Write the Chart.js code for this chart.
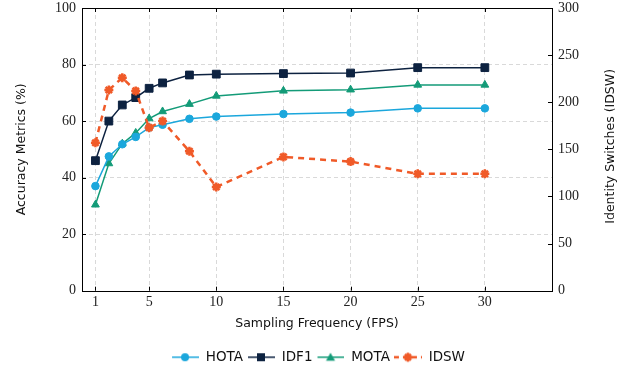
<!DOCTYPE html>
<html><head><meta charset="utf-8">
<script src="https://cdn.jsdelivr.net/npm/chart.js@4/dist/chart.umd.min.js"></script>
<style>html,body{margin:0;padding:0;background:#fff}</style>
</head><body>
<canvas id="c" width="636" height="370"></canvas>
<script>
const fps = [1, 2, 3, 4, 5, 6, 8, 10, 15, 20, 25, 30];
const hota = [37.0, 47.5, 51.8, 54.4, 57.7, 58.7, 60.8, 61.6, 62.5, 63.0, 64.5, 64.5];
const idf1 = [46.0, 60.0, 65.7, 68.3, 71.6, 73.5, 76.3, 76.6, 76.8, 77.0, 78.9, 78.9];
const mota = [30.4, 45.0, 52.0, 55.8, 60.9, 63.4, 66.0, 68.9, 70.7, 71.1, 72.8, 72.8];
const idsw = [157, 213, 226, 212, 173, 180, 148, 110, 142, 137, 124, 124];
const xTicks = [1, 5, 10, 15, 20, 25, 30];
const leftTicks = [0, 20, 40, 60, 80, 100];
const rightTicks = [0, 50, 100, 150, 200, 250, 300];
const seriesNames = ['HOTA', 'IDF1', 'MOTA', 'IDSW'];
const xTitle = 'Sampling Frequency (FPS)';
const yTitle = 'Accuracy Metrics (%)';
const y2Title = 'Identity Switches (IDSW)';

const C_HOTA = '#1ba7dc', C_IDF1 = '#0d2240', C_MOTA = '#139b78', C_IDSW = '#f05a28';

function pts(ys) { return fps.map((x, i) => ({x: x, y: ys[i]})); }

function legendIcon(color, shape, dashed) {
  const cv = document.createElement('canvas');
  cv.width = 28; cv.height = 12;
  const g = cv.getContext('2d');
  g.strokeStyle = color; g.fillStyle = color;
  g.lineWidth = dashed ? 2.5 : 1.5;
  if (dashed) g.setLineDash([5, 4]);
  g.beginPath(); g.moveTo(dashed ? 0 : 1, 6); g.lineTo(28, 6); g.stroke();
  g.setLineDash([]);
  g.beginPath();
  if (shape === 'circle') { g.arc(14, 6, 4, 0, Math.PI * 2); g.fill(); }
  else if (shape === 'rect') { g.fillRect(10, 2, 8, 8); }
  else if (shape === 'tri') { g.moveTo(14, 1.5); g.lineTo(18.5, 9.5); g.lineTo(9.5, 9.5); g.closePath(); g.fill(); }
  else if (shape === 'star') {
    g.lineWidth = 2.5;
    g.moveTo(14, 1.5); g.lineTo(14, 10.5); g.moveTo(9.5, 6); g.lineTo(18.5, 6);
    g.moveTo(11, 3); g.lineTo(17, 9); g.moveTo(17, 3); g.lineTo(11, 9);
    g.stroke();
  }
  return cv;
}
const icons = [
  legendIcon(C_HOTA, 'circle', false),
  legendIcon(C_IDF1, 'rect', false),
  legendIcon(C_MOTA, 'tri', false),
  legendIcon(C_IDSW, 'star', true)
];

const tickFont = {family: 'Liberation Serif', size: 14};
const titleFont = {family: 'DejaVu Sans', size: 12.5};

const framePlugin = {
  id: 'frame',
  beforeDatasetsDraw(chart) {
    const {ctx, chartArea: a, scales} = chart;
    ctx.save();
    ctx.strokeStyle = '#000'; ctx.lineWidth = 1;
    ctx.strokeRect(Math.round(a.left) + 0.5, Math.round(a.top) + 0.5, Math.round(a.right - a.left), Math.round(a.bottom - a.top));
    ctx.beginPath();
    const L = 4;
    xTicks.forEach(v => {
      const x = Math.round(scales.x.getPixelForValue(v)) + 0.5;
      ctx.moveTo(x, a.bottom); ctx.lineTo(x, a.bottom - L);
      ctx.moveTo(x, a.top); ctx.lineTo(x, a.top + L);
    });
    leftTicks.forEach(v => {
      const y = Math.round(scales.y.getPixelForValue(v)) + 0.5;
      ctx.moveTo(a.left, y); ctx.lineTo(a.left + L, y);
    });
    rightTicks.forEach(v => {
      const y = Math.round(scales.y2.getPixelForValue(v)) + 0.5;
      ctx.moveTo(a.right, y); ctx.lineTo(a.right - L, y);
    });
    ctx.stroke();
    ctx.restore();
  },
  afterDraw(chart) {
    const {ctx, chartArea: a} = chart;
    ctx.save();
    ctx.font = titleFont.size + 'px "' + titleFont.family + '"';
    ctx.fillStyle = '#111';
    ctx.textAlign = 'center'; ctx.textBaseline = 'middle';
    ctx.translate(611, (a.top + a.bottom) / 2 - 3);
    ctx.rotate(-Math.PI / 2);
    ctx.fillText(y2Title, 0, 0);
    ctx.restore();
  }
};

new Chart(document.getElementById('c'), {
  type: 'line',
  data: {
    datasets: [
      {label: seriesNames[0], data: pts(hota), yAxisID: 'y', borderColor: C_HOTA, backgroundColor: C_HOTA,
       borderWidth: 1.5, pointStyle: 'circle', pointRadius: 3.8, pointBorderWidth: 1, order: 1},
      {label: seriesNames[1], data: pts(idf1), yAxisID: 'y', borderColor: C_IDF1, backgroundColor: C_IDF1,
       borderWidth: 1.5, pointStyle: 'rect', pointRadius: 5.5, pointBorderWidth: 1, order: 1},
      {label: seriesNames[2], data: pts(mota), yAxisID: 'y', borderColor: C_MOTA, backgroundColor: C_MOTA,
       borderWidth: 1.5, pointStyle: 'triangle', pointRadius: 4.5, pointBorderWidth: 1, order: 1},
      {label: seriesNames[3], data: pts(idsw), yAxisID: 'y2', borderColor: C_IDSW, backgroundColor: C_IDSW,
       borderWidth: 2.5, borderDash: [6, 5], pointStyle: 'star', pointRadius: 4.5, pointBorderWidth: 2.5, order: 0}
    ]
  },
  options: {
    responsive: false,
    animation: false,
    devicePixelRatio: 1,
    layout: {padding: {top: 8, left: 0, right: 0, bottom: -4}},
    plugins: {
      tooltip: {enabled: false},
      legend: {
        position: 'bottom',
        labels: {
          usePointStyle: true, pointStyleWidth: 28, boxHeight: 12,
          font: {family: 'DejaVu Sans', size: 13.5}, color: '#111', padding: 4,
          generateLabels: (chart) => chart.data.datasets.map((ds, i) => ({
            text: ds.label, pointStyle: icons[i], fillStyle: 'rgba(0,0,0,0)', strokeStyle: 'rgba(0,0,0,0)',
            lineWidth: 0, hidden: false, datasetIndex: i, fontColor: '#111'
          }))
        }
      }
    },
    scales: {
      x: {
        type: 'linear', min: 0, max: 35,
        afterBuildTicks: (s) => { s.ticks = xTicks.map(v => ({value: v})); },
        ticks: {font: tickFont, color: '#222', padding: 3, maxRotation: 0, autoSkip: false},
        grid: {color: '#d9d9d9', lineWidth: 1, drawTicks: false},
        border: {display: false, dash: [4, 3]},
        title: {display: true, text: xTitle, font: titleFont, color: '#111', padding: {top: 3, bottom: 15}}
      },
      y: {
        position: 'left', min: 0, max: 100,
        afterBuildTicks: (s) => { s.ticks = leftTicks.map(v => ({value: v})); },
        afterFit: (s) => { s.width = 82; s.paddingTop = 0; s.paddingBottom = 0; },
        ticks: {font: tickFont, color: '#222', padding: 6},
        grid: {color: (c) => (c.tick && (c.tick.value === 0 || c.tick.value === 100)) ? 'rgba(0,0,0,0)' : '#d9d9d9', lineWidth: 1, drawTicks: false},
        border: {display: false, dash: [4, 3]},
        title: {display: true, text: yTitle, font: titleFont, color: '#111', padding: {top: 14.5, bottom: 0}}
      },
      y2: {
        position: 'right', min: 0, max: 300,
        afterBuildTicks: (s) => { s.ticks = rightTicks.map(v => ({value: v})); },
        afterFit: (s) => { s.width = 84; s.paddingTop = 0; s.paddingBottom = 0; },
        ticks: {font: tickFont, color: '#222', padding: 6},
        grid: {display: false, drawTicks: false},
        border: {display: false},
        title: {display: false, text: y2Title}
      }
    }
  },
  plugins: [framePlugin]
});
</script>
</body></html>
